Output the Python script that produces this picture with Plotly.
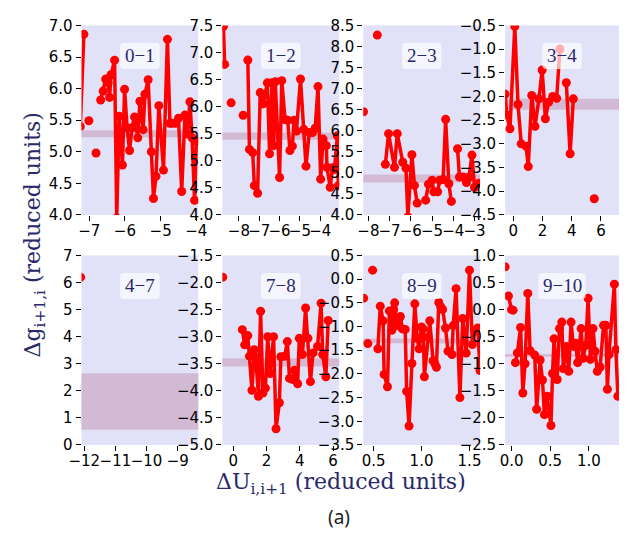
import plotly.graph_objects as go

W, H = 628, 540

# ---------------- data ----------------
PANEL_LABELS = ["0−1", "1−2", "2−3", "3−4", "4−7", "7−8", "8−9", "9−10"]

P01_X = [-7.25, -7.15, None, -7.01, None, -6.81, None, -6.68, -6.61, -6.54, -6.47, -6.43, -6.39, -6.29, -6.23,
         -6.16, -6.07, -6.01, -5.94, -5.87, -5.80, -5.73, -5.64, -5.58, -5.49, -5.44, -5.35, -5.26, -5.20, -5.13,
         -5.05, -4.92, -4.81, -4.74, -4.68, -4.59, -4.50, -4.41, -4.32, -4.25, -4.18, -4.12, -4.05, -4.00]
P01_Y = [5.40, 6.86, None, 5.49, None, 4.98, None, 5.82, 5.96, 6.15, 6.09, 5.86, 6.22, 6.45, 3.95,
         5.56, 4.79, 5.99, 5.38, 5.02, 5.38, 5.55, 5.22, 5.80, 5.35, 5.91, 6.14, 5.00, 4.26, 4.61,
         5.73, 4.71, 6.78, 5.45, 5.45, 5.45, 5.53, 4.37, 5.58, 5.28, 5.79, 5.22, 4.23, 5.17]

P12_X = [-8.76, -8.70, None, -8.38, None, -7.79, None,
         -7.56, -7.48, -7.32, -7.24, -7.08, -6.95, -6.81, -6.60, -6.49, -6.37, -6.29, -6.21, -6.00, -5.89,
         -5.73, -5.60, -5.49, -5.37, -5.29, -5.17, -4.97, -4.81, -4.70, -4.54, -4.38, -4.25, -4.11, -3.98,
         -3.86, -3.70, -3.67, -3.51, -3.40, -3.30, -3.16, -3.11]
P12_Y = [7.48, 6.78, None, 6.07, None, 5.84, None,
         6.86, 5.21, 5.15, 4.54, 4.40, 6.26, 6.05, 6.44, 5.13, 6.44, 5.28, 6.46, 4.69, 6.48,
         5.76, 5.75, 5.19, 5.27, 5.75, 5.55, 6.51, 5.58, 4.90, 5.52, 5.52, 5.60, 6.37, 4.66,
         5.40, 5.28, 4.88, 4.51, 4.87, 4.84, 5.46, 4.54]

P23_X = [-8.23, None, -7.58, None, -7.20, -7.05, -6.77, -6.64, -6.38, -6.23, -6.14, -5.95, -5.83, -5.70, None,
         -5.30, -5.17, -5.00, -4.92, -4.74, -4.64, -4.48, -4.36, -4.21, -4.09, None,
         -3.80, -3.71, -3.53, -3.38, -3.26, -3.12, -3.00, -2.80]
P23_Y = [6.45, None, 8.27, None, 5.20, 5.93, 5.13, 5.93, 5.25, 5.11, 3.95, 5.43, 4.70, 4.28, None,
         4.35, 4.73, 4.82, 4.55, 4.55, 4.82, 4.84, 6.27, 4.74, 4.32, None,
         5.57, 4.90, 4.90, 4.77, 4.90, 5.42, 4.65, 4.75]

P34_X = [-0.55, -0.44, -0.22, 0.11, 0.33, 0.55, 0.88, 1.03, 1.27, 1.49, 1.76, 1.98, 2.20, 2.42, 2.70, 2.97,
         3.19, None, 3.63, 3.89, 4.11, None, 5.54]
P34_Y = [-1.95, -2.39, -2.68, -0.52, -2.17, -3.00, -3.05, -3.48, -1.98, -2.63, -2.05, -1.44, -2.47, -2.12,
         -2.00, -2.04, -1.00, None, -1.71, -3.21, -2.05, None, -4.16]

P47_X = [-12.12]
P47_Y = [6.20]

P78_X = [-0.64, None, 0.54, 0.68, 0.87, 0.97, 1.12, 1.26, 1.35, 1.51, 1.64, 1.78, 1.93, 2.07, 2.22, 2.42,
         2.57, 2.77, 2.86, 3.09, 3.25, 3.38, 3.58, 3.68, 3.87, 3.97, 4.16, 4.35, 4.49, 4.64, 4.80, 5.07,
         5.28, 5.38, 5.57, 5.71]
P78_Y = [-1.90, None, -2.87, -3.15, -2.98, -3.36, -3.99, -3.24, -3.39, -4.10, -2.53, -4.04, -3.95, -3.00,
         -3.68, -3.00, -4.70, -4.22, -3.37, -3.36, -3.09, -3.77, -3.79, -3.62, -3.87, -3.03, -3.33, -2.47,
         -3.03, -3.83, -3.30, -3.18, -2.38, -3.33, -3.74, -2.70]

P89_X = [0.397, None, 0.44, None, 0.49, None,
         0.545, 0.57, 0.60, 0.61, 0.645, 0.665, 0.69, 0.71, 0.72, 0.74, 0.765, 0.78, 0.80, 0.83, 0.845,
         0.87, 0.90, 0.93, 0.955, 0.975, 1.00, 1.017, 1.03, 1.07, 1.086, 1.12, 1.14, 1.155, 1.18, 1.20,
         1.22, 1.25, 1.276, 1.317, 1.33, 1.36, 1.40, 1.43, 1.466, 1.50, 1.53, 1.56, 1.586, 1.61, 1.63]
P89_Y = [-0.40, None, -1.36, None, 0.19, None,
         -1.47, -0.57, -0.88, -2.01, -2.27, -0.67, -1.08, -0.64, -0.50, -0.98, -0.84, -0.79, -1.05, -1.06,
         -2.37, -3.10, -1.78, -0.52, -1.25, -1.47, -1.01, -1.05, -2.06, -1.22, -0.88, -1.72, -1.79, -1.86,
         -0.49, -0.58, -0.64, -1.03, -1.52, -1.59, -0.98, -0.20, -2.50, -0.83, -1.56, 0.19, -1.38, -1.08,
         -1.03, -1.93, -1.50]

P910_X = [-0.083, None, -0.04, 0.0, 0.02, None,
          0.05, 0.075, 0.117, 0.146, 0.175, 0.21, 0.24, 0.30, 0.325, 0.37, 0.40, 0.425, 0.46, 0.51, 0.53,
          0.55, 0.59, 0.62, 0.65, 0.67, 0.71, 0.74, 0.77, 0.80, 0.83, 0.855, 0.90, 0.925, 0.96, 0.99,
          1.02, 1.054, 1.08, 1.11, 1.146, 1.19, 1.22, 1.24, 1.26, 1.33, 1.35, 1.375]
P910_Y = [0.79, None, 0.25, 0.0, -0.01, None,
          -0.98, -0.80, -0.33, -1.54, -1.00, 0.30, -0.76, -0.84, -1.84, -0.93, -1.30, -1.94, -1.60, -2.14,
          -1.18, -0.54, -1.29, -0.35, -0.23, -1.09, -0.68, -1.14, -0.23, -0.68, -0.62, -0.98, -0.35, -0.90,
          -0.66, 0.21, -0.92, -0.35, -0.77, -1.14, -1.06, -0.29, -0.29, -1.47, -0.83, 0.47, -0.74, -1.60]

BAND_LO = [5.23, 5.39, 4.77, -2.28, 0.56, -3.55, -1.35, -0.87]
BAND_HI = [5.34, 5.52, 4.96, -2.05, 2.65, -3.40, -1.25, -0.82]

X_RANGES = [[-7.216, -3.946], [-8.81, -3.07], [-8.24, -2.74], [-0.55, 7.23],
            [-12.09, -8.34], [-0.66, 6.37], [0.393, 1.61], [-0.083, 1.39]]
Y_RANGES = [[4.0, 7.0], [4.0, 7.5], [4.0, 8.5], [-4.5, -0.5],
            [0.0, 7.0], [-5.0, -1.5], [-3.5, 0.5], [-2.5, 1.0]]
X_TICKS = [[-7, -6, -5, -4], [-8, -7, -6, -5, -4], [-8, -7, -6, -5, -4, -3], [0, 2, 4, 6],
           [-12, -11, -10, -9], [0, 2, 4, 6], [0.5, 1.0, 1.5], [0.0, 0.5, 1.0]]
X_FMT = ["d", "d", "d", "d", "d", "d", ".1f", ".1f"]
Y_FMT = [".1f", ".1f", ".1f", ".1f", "d", ".1f", ".1f", ".1f"]
Y_DTICK = [0.5, 0.5, 0.5, 0.5, 1, 0.5, 0.5, 0.5]

SERIES_X = [P01_X, P12_X, P23_X, P34_X, P47_X, P78_X, P89_X, P910_X]
SERIES_Y = [P01_Y, P12_Y, P23_Y, P34_Y, P47_Y, P78_Y, P89_Y, P910_Y]

# ---------------- layout geometry (pixels) ----------------
COL_PX = [(71, 192), (217, 338), (363, 484), (510, 628)]
ROW_PX = [(17, 213), (255, 451)]

BG = "#e1e1f7"
BAND = "#d3bad4"
NAVY = "#28286a"
TICKFONT = dict(family="DejaVu Sans", size=15, color="black")


def rounded_box(xr, yr, fx0, fx1, fy0, fy1, frx, fry):
    """Rounded rectangle path in data coordinates, given fractions of the plot area."""
    fx = lambda f: xr[0] + f * (xr[1] - xr[0])
    fy = lambda f: yr[0] + f * (yr[1] - yr[0])
    pts = [
        ("M", fx(fx0 + frx), fy(fy0)), ("L", fx(fx1 - frx), fy(fy0)),
        ("Q", fx(fx1), fy(fy0), fx(fx1), fy(fy0 + fry)), ("L", fx(fx1), fy(fy1 - fry)),
        ("Q", fx(fx1), fy(fy1), fx(fx1 - frx), fy(fy1)), ("L", fx(fx0 + frx), fy(fy1)),
        ("Q", fx(fx0), fy(fy1), fx(fx0), fy(fy1 - fry)), ("L", fx(fx0), fy(fy0 + fry)),
        ("Q", fx(fx0), fy(fy0), fx(fx0 + frx), fy(fy0)),
    ]
    out = []
    for p in pts:
        cmd = p[0]
        coords = p[1:]
        pairs = " ".join(f"{coords[k]:.5f},{coords[k + 1]:.5f}" for k in range(0, len(coords), 2))
        out.append(f"{cmd} {pairs}")
    return " ".join(out) + " Z"


fig = go.Figure()
layout = dict(width=W, height=H, margin=dict(l=0, r=0, t=0, b=0),
              paper_bgcolor="white", plot_bgcolor=BG, showlegend=False)
shapes = []
annotations = []

for i in range(8):
    r, c = divmod(i, 4)
    n = i + 1
    xs = "" if n == 1 else str(n)
    x0, x1 = COL_PX[c]
    y0, y1 = ROW_PX[r]
    pw, ph = x1 - x0, y1 - y0
    xd = [x0 / W, x1 / W]
    yd = [1 - y1 / H, 1 - y0 / H]
    yr = Y_RANGES[i]
    ticks_y = []
    v = yr[0]
    while v <= yr[1] + 1e-9:
        ticks_y.append(round(v, 3))
        v += Y_DTICK[i]
    layout["xaxis" + xs] = dict(domain=xd, range=X_RANGES[i], anchor="y" + xs,
                                tickmode="array", tickvals=X_TICKS[i], tickformat=X_FMT[i],
                                ticks="outside", ticklen=5, tickwidth=1, tickcolor="black",
                                showgrid=False, zeroline=False, showline=False, tickangle=0,
                                tickfont=TICKFONT, ticklabelstandoff=-3)
    layout["yaxis" + xs] = dict(domain=yd, range=yr, anchor="x" + xs,
                                tickmode="array", tickvals=ticks_y, tickformat=Y_FMT[i],
                                ticks="outside", ticklen=5, tickwidth=1, tickcolor="black",
                                showgrid=False, zeroline=False, showline=False, tickangle=0,
                                tickfont=TICKFONT, ticklabelstandoff=0)
    fig.add_trace(go.Scatter(x=SERIES_X[i], y=SERIES_Y[i], mode="lines+markers",
                             xaxis="x" + xs, yaxis="y" + xs, connectgaps=False,
                             line=dict(color="#ff0000", width=3.5),
                             marker=dict(color="#ff0000", size=9)))
    shapes.append(dict(type="rect", xref="x" + xs + " domain", yref="y" + xs,
                       x0=0, x1=1, y0=BAND_LO[i], y1=BAND_HI[i],
                       fillcolor=BAND, line=dict(width=0), layer="below"))
    # label box (rounded, translucent white)
    box_w = 49 if len(PANEL_LABELS[i]) > 3 else 41
    box_h = 27
    cy = 1 - 31.5 / ph
    shapes.append(dict(type="path", xref="x" + xs, yref="y" + xs,
                       path=rounded_box(X_RANGES[i], yr,
                                        0.5 - box_w / 2 / pw, 0.5 + box_w / 2 / pw,
                                        cy - box_h / 2 / ph, cy + box_h / 2 / ph,
                                        4 / pw, 4 / ph),
                       fillcolor="rgba(255,255,255,0.68)", line=dict(width=0), layer="above"))
    annotations.append(dict(text=PANEL_LABELS[i], xref="x" + xs + " domain", yref="y" + xs + " domain",
                            x=0.5, y=cy, xanchor="center", yanchor="middle", showarrow=False,
                            font=dict(family="Liberation Serif", size=19, color=NAVY)))

TITLE_FONT = dict(family="DejaVu Serif", size=22, color=NAVY)
annotations.append(dict(text="Δg<sub>i+1,i</sub> (reduced units)", xref="paper", yref="paper",
                        x=22 / W, y=1 - 234 / H, xanchor="center", yanchor="middle", textangle=-90,
                        showarrow=False, font=TITLE_FONT))
annotations.append(dict(text="ΔU<sub>i,i+1</sub> (reduced units)", xref="paper", yref="paper",
                        x=340 / W, y=1 - 491 / H, xanchor="center", yanchor="middle",
                        showarrow=False, font=TITLE_FONT))
annotations.append(dict(text="(a)", xref="paper", yref="paper",
                        x=338 / W, y=1 - 525 / H, xanchor="center", yanchor="middle",
                        showarrow=False, font=dict(family="Noto Sans", size=19, color="#222222")))

layout["shapes"] = shapes
layout["annotations"] = annotations
fig.update_layout(**layout)
fig.write_html("out.html")
